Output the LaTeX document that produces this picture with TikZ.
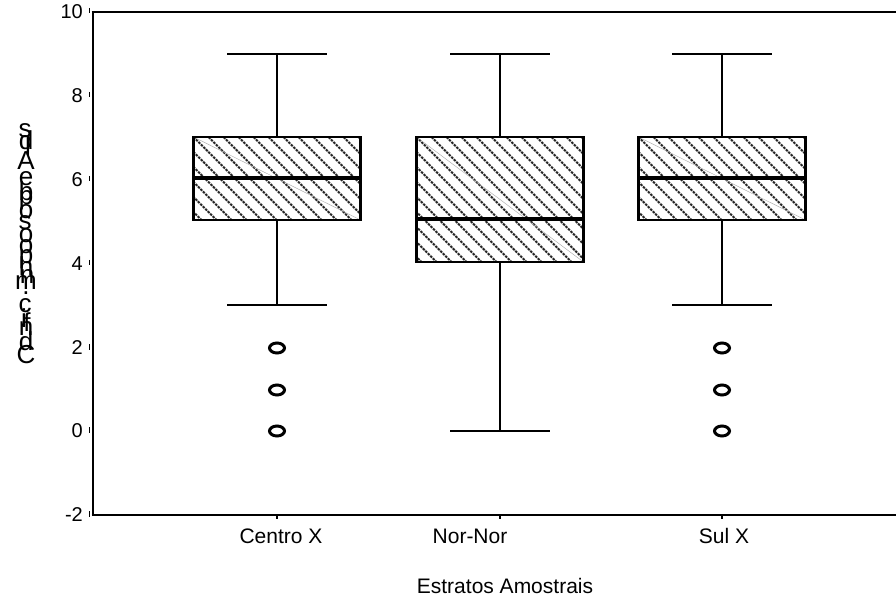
\documentclass[tikz,border=0pt]{standalone}
\usepackage{fontspec}
\setmainfont{Liberation Sans}
\begin{document}
\begin{tikzpicture}[x=1pt,y=-1pt,
  axisline/.style={line width=2.6pt},
  boxline/.style={line width=2.2pt},
  medline/.style={line width=4pt},
  whisk/.style={line width=2.2pt},
  hatchline/.style={black!85, line width=2pt, dash pattern=on 2.5pt off 1pt},
  diagline/.style={black!35, line width=0.4pt},
  outl/.style={line width=3pt},
  lbl/.style={font=\fontsize{21}{25}\selectfont, inner sep=0pt},
  ticklbl/.style={font=\fontsize{20}{24}\selectfont, inner sep=0pt},
  ylbl/.style={font=\fontsize{26}{30}\selectfont, inner sep=0pt, anchor=center},
  tickmark/.style={line width=1.6pt}]
\useasboundingbox (0,0) rectangle (896,601);
\fill[white] (0,0) rectangle (896,601);

% box plot macro: center x, q3, median, q1, upper whisker, lower whisker
\newcommand\bxplot[6]{%
  \begin{scope}
    \clip (#1-83.5,#2) rectangle (#1+83.5,#4);
    \foreach \k in {-300,-285,...,200} {\draw[hatchline] (#1-83.5+\k,#2) -- ++(300,300);}
  \end{scope}
  \draw[diagline] (#1-83.5,#2) -- (#1+83.5,#4);
  \draw[boxline] (#1-83.5,#2) rectangle (#1+83.5,#4);
  \draw[medline] (#1-83.5,#3) -- (#1+83.5,#3);
  \draw[whisk] (#1,#2) -- (#1,#5);
  \draw[whisk] (#1,#4) -- (#1,#6);
  \draw[whisk] (#1-50,#5) -- (#1+50,#5);
  \draw[whisk] (#1-50,#6) -- (#1+50,#6);
}

\bxplot{277}{137}{178}{220}{54}{305}
\bxplot{500}{137}{219}{262}{54}{431}
\bxplot{722}{137}{178}{220}{54}{305}

% outliers
\foreach \cx in {277,722} {
  \foreach \cy in {348,390,431} {
    \draw[outl] (\cx,\cy) ellipse (7.5pt and 5pt);
  }
}

% axes
\draw[axisline] (93,12) -- (93,516);
\draw[axisline] (91.7,12) -- (896,12);
\draw[axisline] (91.7,515) -- (896,515);

% y ticks and labels
\foreach \v/\yy in {10/12,8/96,6/180,4/264,2/348,0/431,-2/515} {
  \node[ticklbl, anchor=east] (yt\v) at (83,\yy) {\v};
  \draw[tickmark] (89.5,\yy-4) -- (89.5,\yy+1.5);
}

% x ticks and labels
\foreach \cx/\lx/\t/\n in {277/281/Centro X/a,500/470/Nor-Nor/b,722/724/Sul X/c} {
  \draw[line width=1.2pt] (\cx,516) -- (\cx,519);
  \node[lbl, anchor=center] (xl\n) at (\lx,536) {\t};
}

\node[lbl, anchor=center] (xtitle) at (505,586) {Estratos Amostrais};

% y axis title (stacked characters)
\foreach \ch/\yy/\xx in {s/131/25,d/140/26,l/146/28,A/161/26,e/179/26,b/191/26,p/200/26,o/212/26,s/223/25,o/236/26,o/247/26,p/259/26,h/266/26,n/277/27,m/283/26,./293/26,c/306/25,i/318/24,f/322/27,n/329/26,d/341/26,C/355/26} {
  \node[ylbl] at (\xx,\yy) {\ch};
}
\end{tikzpicture}
\end{document}
